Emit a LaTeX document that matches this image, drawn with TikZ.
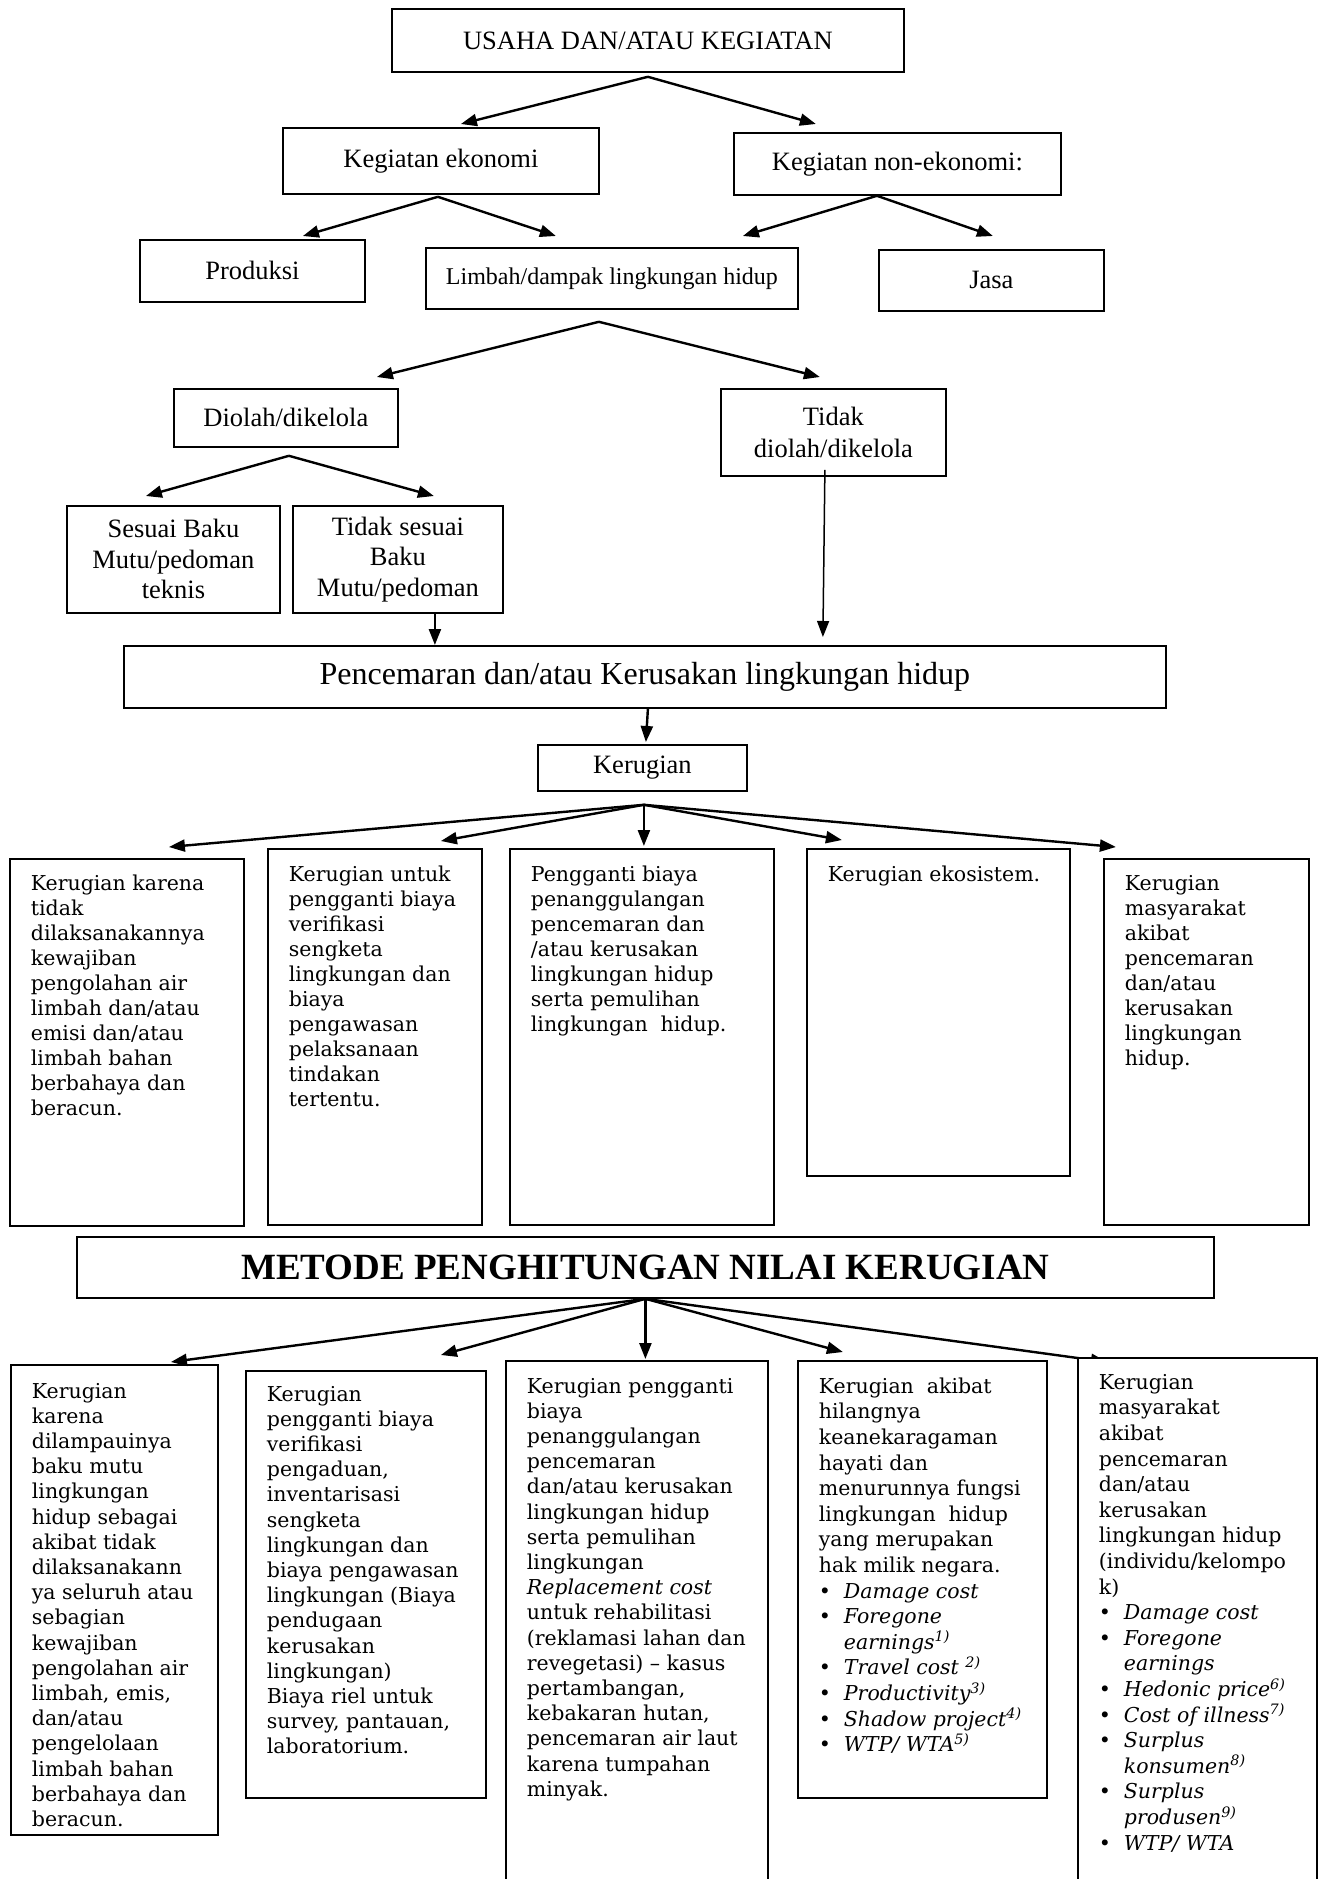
\documentclass[tikz,border=0pt]{standalone}
\usepackage{fontspec}
\setmainfont{Liberation Serif}
\newfontfamily\bookfont{DejaVu Serif}
\usetikzlibrary{arrows.meta,positioning,backgrounds}

% top-aligned text of a tall box: width, height, top padding, lines
\newcommand{\celltext}[4]{\parbox[t][#2pt][t]{#1pt}{\leftskip=21pt\vspace*{#3pt}\strut #4}}
\newcommand{\bitem}[1]{\makebox[25pt][l]{\textbullet}\textit{#1}}

\begin{document}
\begin{tikzpicture}[x=1pt, y=-1pt,
  topbox/.style={draw, line width=1.8pt, inner sep=0pt, anchor=north west, align=center, font=\fontsize{26.5}{30.5}\selectfont},
  txtbox/.style={draw, line width=1.8pt, fill=white, inner sep=0pt, anchor=north west, font=\bookfont\fontsize{20.5}{25}\selectfont},
  lowbox/.style={txtbox, font=\bookfont\fontsize{20.5}{25.2}\selectfont},
  listbox/.style={txtbox, font=\bookfont\fontsize{20.5}{25.6}\selectfont},
  arr/.style={line width=2.4pt, -{Triangle[length=16pt,width=12pt]}}]
\useasboundingbox (0,0) rectangle (1318,1879);

\node[topbox, minimum width=512pt, minimum height=63pt] (usaha) at (391,8) {USAHA DAN/ATAU KEGIATAN};
\node[topbox, minimum width=316pt, minimum height=66pt] (ekonomi) at (282,127) {Kegiatan ekonomi};
\node[topbox, minimum width=327pt, minimum height=62pt] (nonekonomi) at (733,132) {Kegiatan non-ekonomi:};
\node[topbox, minimum width=225pt, minimum height=62pt] (produksi) at (139,239) {Produksi};
\node[topbox, minimum width=372pt, minimum height=61pt, font=\fontsize{24}{28}\selectfont] (limbah) at (425,247) {Limbah/dampak lingkungan hidup};
\node[topbox, minimum width=225pt, minimum height=61pt] (jasa) at (878,249) {Jasa};
\node[topbox, minimum width=224pt, minimum height=58pt] (diolah) at (173,388) {Diolah/dikelola};
\node[topbox, minimum width=225pt, minimum height=87pt, font=\fontsize{26.5}{32}\selectfont] (tdiolah) at (720,388) {Tidak\\diolah/dikelola};
\node[topbox, minimum width=213pt, minimum height=107pt] (sesuai) at (66,505) {Sesuai Baku\\Mutu/pedoman\\teknis};
\node[topbox, minimum width=210pt, minimum height=107pt] (tsesuai) at (292,505) {Tidak sesuai\\Baku\\Mutu/pedoman};
\node[topbox, minimum width=1042pt, minimum height=62pt, font=\fontsize{32}{36}\selectfont] (pencemaran) at (123,645) {Pencemaran dan/atau Kerusakan lingkungan hidup};
\node[topbox, minimum width=209pt, minimum height=46pt] (kerugian) at (537,744) {Kerugian};

% kinds of loss
\node[txtbox] (m1) at (9,858) {\celltext{234}{367}{14.5}{Kerugian karena\\ tidak\\ dilaksanakannya\\ kewajiban\\ pengolahan air\\ limbah dan/atau\\ emisi dan/atau\\ limbah bahan\\ berbahaya dan\\ beracun.}};
\node[txtbox] (m2) at (267,848) {\celltext{214}{376}{15.5}{Kerugian untuk\\ pengganti biaya\\ verifikasi\\ sengketa\\ lingkungan dan\\ biaya\\ pengawasan\\ pelaksanaan\\ tindakan\\ tertentu.}};
\node[txtbox] (m3) at (509,848) {\celltext{264}{376}{15.5}{Pengganti biaya\\ penanggulangan\\ pencemaran dan\\ /atau kerusakan\\ lingkungan hidup\\ serta pemulihan\\ lingkungan\ \ hidup.}};
\node[txtbox] (m4) at (806,848) {\celltext{263}{327}{15.5}{Kerugian ekosistem.}};
\node[txtbox] (m5) at (1103,858) {\celltext{205}{366}{14.5}{Kerugian\\ masyarakat\\ akibat\\ pencemaran\\ dan/atau\\ kerusakan\\ lingkungan\\ hidup.}};

\node[topbox, minimum width=1137pt, minimum height=61pt, font=\bfseries\fontsize{37}{40}\selectfont] (metode) at (76,1236) {METODE PENGHITUNGAN NILAI KERUGIAN};

% methods
\node[lowbox] (b1) at (10,1364) {\celltext{207}{470}{15.5}{Kerugian\\ karena\\ dilampauinya\\ baku mutu\\ lingkungan\\ hidup sebagai\\ akibat tidak\\ dilaksanakann\\ ya seluruh atau\\ sebagian\\ kewajiban\\ pengolahan air\\ limbah, emis,\\ dan/atau\\ pengelolaan\\ limbah bahan\\ berbahaya dan\\ beracun.}};
\node[lowbox] (b2) at (245,1370) {\celltext{240}{427}{12.5}{Kerugian\\ pengganti biaya\\ verifikasi\\ pengaduan,\\ inventarisasi\\ sengketa\\ lingkungan dan\\ biaya pengawasan\\ lingkungan (Biaya\\ pendugaan\\ kerusakan\\ lingkungan)\\ Biaya riel untuk\\ survey, pantauan,\\ laboratorium.}};
\node[lowbox] (b3) at (505,1360) {\celltext{262}{560}{14.5}{Kerugian pengganti\\ biaya\\ penanggulangan\\ pencemaran\\ dan/atau kerusakan\\ lingkungan hidup\\ serta pemulihan\\ lingkungan\\ \textit{Replacement cost}\\ untuk rehabilitasi\\ (reklamasi lahan dan\\ revegetasi) – kasus\\ pertambangan,\\ kebakaran hutan,\\ pencemaran air laut\\ karena tumpahan\\ minyak.}};
\node[listbox] (b4) at (797,1360) {\celltext{249}{437}{14.5}{Kerugian\ \ akibat\\ hilangnya\\ keanekaragaman\\ hayati dan\\ menurunnya fungsi\\ lingkungan\ \ hidup\\ yang merupakan\\ hak milik negara.\\
  \bitem{Damage cost}\\
  \bitem{Foregone}\\ \hspace*{25pt}\textit{earnings\textsuperscript{1)}}\\
  \bitem{Travel cost \textsuperscript{2)}}\\
  \bitem{Productivity\textsuperscript{3)}}\\
  \bitem{Shadow project\textsuperscript{4)}}\\
  \bitem{WTP/ WTA\textsuperscript{5)}}}};
\node[listbox] (b5) at (1077,1357) {\celltext{239}{560}{13.5}{Kerugian\\ masyarakat\\ akibat\\ pencemaran\\ dan/atau\\ kerusakan\\ lingkungan hidup\\ (individu/kelompo\\ k)\\
  \bitem{Damage cost}\\
  \bitem{Foregone}\\ \hspace*{25pt}\textit{earnings}\\
  \bitem{Hedonic price\textsuperscript{6)}}\\
  \bitem{Cost of illness\textsuperscript{7)}}\\
  \bitem{Surplus}\\ \hspace*{25pt}\textit{konsumen\textsuperscript{8)}}\\
  \bitem{Surplus}\\ \hspace*{25pt}\textit{produsen\textsuperscript{9)}}\\
  \bitem{WTP/ WTA}}};

% connectors, upper part
\draw[arr] ([yshift=-4pt]usaha.south) -- ([xshift=20pt,yshift=3pt]ekonomi.north);
\draw[arr] ([yshift=-4pt]usaha.south) -- ([xshift=-81.5pt,yshift=8pt]nonekonomi.north);
\draw[arr] ([xshift=-3pt,yshift=-2pt]ekonomi.south) -- ([xshift=50.5pt,yshift=3pt]produksi.north);
\draw[arr] ([xshift=-3pt,yshift=-2pt]ekonomi.south) -- ([xshift=-56pt,yshift=11pt]limbah.north);
\draw[arr] ([xshift=-20.5pt]nonekonomi.south) -- ([xshift=131pt,yshift=11pt]limbah.north);
\draw[arr] ([xshift=-20.5pt]nonekonomi.south) -- ([xshift=1.5pt,yshift=13pt]jasa.north);
\draw[arr] ([xshift=-13pt,yshift=-12pt]limbah.south) -- ([xshift=91pt,yshift=11pt]diolah.north);
\draw[arr] ([xshift=-13pt,yshift=-12pt]limbah.south) -- ([xshift=-13.5pt,yshift=11pt]tdiolah.north);
\draw[arr] ([xshift=3pt,yshift=-8pt]diolah.south) -- ([xshift=-27.5pt,yshift=9pt]sesuai.north);
\draw[arr] ([xshift=3pt,yshift=-8pt]diolah.south) -- ([xshift=36pt,yshift=9pt]tsesuai.north);
\draw[arr] ([xshift=37pt]tsesuai.south) -- ([xshift=-210pt]pencemaran.north);
\draw[arr, line width=1.5pt] ([xshift=-8.5pt,yshift=7pt]tdiolah.south) -- ([xshift=178pt,yshift=8pt]pencemaran.north);
\draw[arr] ([xshift=3pt]pencemaran.south) -- ([xshift=3.5pt,yshift=2pt]kerugian.north);

% fan to the kinds of loss
\coordinate (kfan) at ([xshift=1.5pt,yshift=-13pt]kerugian.south);
\draw[arr] (kfan) -- ([xshift=42pt,yshift=11pt]m1.north);
\draw[arr] (kfan) -- ([xshift=66pt,yshift=7pt]m2.north);
\draw[arr] (kfan) -- ([xshift=2pt,yshift=2pt]m3.north);
\draw[arr] (kfan) -- ([xshift=-96.5pt,yshift=8pt]m4.north);
\draw[arr] (kfan) -- ([xshift=-90.5pt,yshift=11pt]m5.north);

% fan to the methods
\draw[arr] (metode.south) -- ([xshift=56.5pt,yshift=2pt]b1.north);
\draw[arr] (metode.south) -- ([xshift=75pt,yshift=15pt]b2.north);
\draw[arr] (metode.south) -- ([xshift=8.5pt,yshift=1pt]b3.north);
\draw[arr] (metode.south) -- ([xshift=-79.5pt,yshift=8pt]b4.north);
\begin{pgfonlayer}{background}
\draw[arr] (metode.south) -- ([xshift=-90.5pt,yshift=-5pt]b5.north);
\end{pgfonlayer}
\end{tikzpicture}
\end{document}
